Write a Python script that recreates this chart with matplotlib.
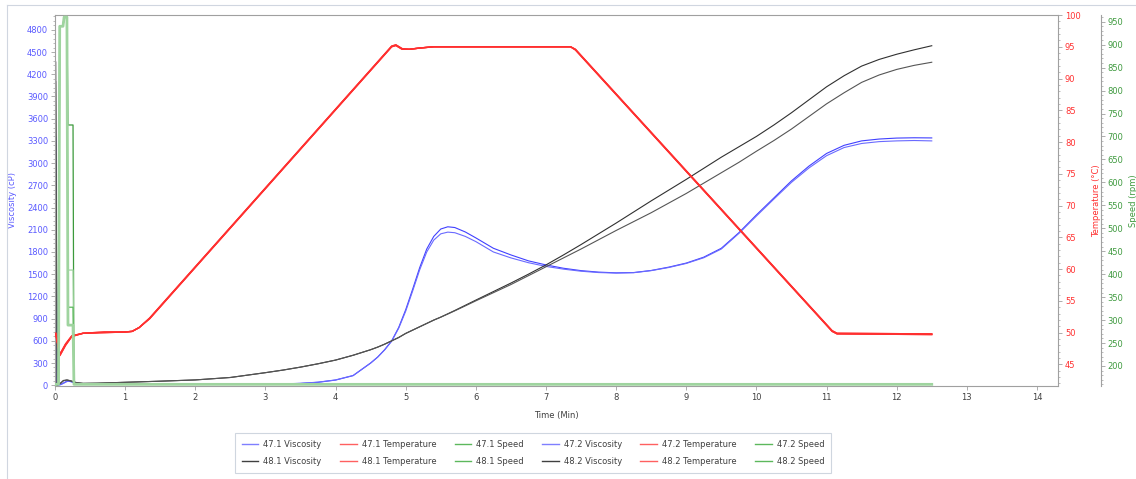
import matplotlib
matplotlib.use("Agg")
import matplotlib.pyplot as plt
from matplotlib.ticker import AutoMinorLocator
from matplotlib.lines import Line2D

# time grid for the viscosity traces (min)
visc_t = [0.01, 0.03, 0.08, 0.12, 0.17, 0.22, 0.3, 0.4, 0.6, 1.0, 1.5, 2.0, 2.5, 3.0,
          3.25, 3.5, 3.75, 4.0, 4.25, 4.5, 4.6, 4.7, 4.8, 4.9, 5.0, 5.1, 5.2, 5.3,
          5.4, 5.5, 5.6, 5.7, 5.85, 6.0, 6.25, 6.5, 6.75, 7.0, 7.25, 7.5, 7.75, 8.0,
          8.25, 8.5, 8.75, 9.0, 9.25, 9.5, 9.75, 10.0, 10.25, 10.5, 10.75, 11.0,
          11.25, 11.5, 11.75, 12.0, 12.25, 12.5]

visc_471 = [3350, 0, 10, 30, 55, 50, 25, 15, 12, 12, 12, 12, 12, 14,
            18, 25, 40, 70, 130, 300, 380, 480, 600, 780, 1020, 1300, 1590, 1840,
            2010, 2110, 2140, 2130, 2070, 1990, 1850, 1760, 1680, 1625, 1580, 1548, 1528, 1518,
            1522, 1550, 1595, 1650, 1730, 1850, 2060, 2300, 2530, 2760, 2960, 3130,
            3240, 3300, 3325, 3338, 3342, 3340]
visc_472 = [3000, 0, 8, 25, 50, 55, 30, 18, 14, 13, 13, 13, 13, 15,
            19, 26, 42, 72, 132, 300, 380, 478, 595, 770, 1000, 1275, 1560, 1800,
            1960, 2045, 2068, 2060, 2010, 1940, 1800, 1720, 1655, 1605, 1568, 1540, 1522, 1515,
            1520, 1548, 1590, 1645, 1722, 1840, 2050, 2285, 2515, 2740, 2935, 3100,
            3210, 3265, 3290, 3300, 3305, 3300]
visc_481 = [4365, 0, 30, 65, 70, 60, 35, 25, 28, 40, 55, 72, 105, 170,
            205, 245, 290, 340, 405, 480, 515, 555, 600, 645, 700, 745, 790, 835,
            880, 920, 965, 1010, 1080, 1150, 1265, 1380, 1500, 1625, 1760, 1900, 2045, 2190,
            2340, 2490, 2635, 2780, 2930, 3080, 3220, 3360, 3515, 3680, 3855, 4030,
            4180, 4310, 4400, 4470, 4530, 4585]
visc_482 = [4100, 0, 25, 60, 72, 62, 38, 26, 28, 40, 55, 72, 105, 170,
            205, 245, 290, 340, 405, 480, 515, 555, 600, 645, 700, 745, 790, 835,
            880, 920, 962, 1005, 1072, 1140, 1250, 1360, 1480, 1600, 1720, 1840, 1965, 2090,
            2210, 2330, 2460, 2590, 2730, 2870, 3010, 3160, 3305, 3460, 3630, 3800,
            3950, 4090, 4190, 4265, 4320, 4362]

temp_t = [0.01, 0.07, 0.15, 0.24, 0.4, 0.7, 1.0, 1.1, 1.2, 1.35, 4.8, 4.86, 4.95,
          5.05, 5.2, 5.4, 7.35, 7.42, 11.08, 11.15, 12.5]
temp_47 = [49.9, 46.6, 48.2, 49.5, 49.9, 50.1, 50.1, 50.2, 50.8, 52.3, 95.1, 95.3, 94.7,
           94.6, 94.8, 95.0, 95.0, 94.6, 50.3, 49.9, 49.8]
temp_48 = [49.8, 46.4, 48.0, 49.4, 49.9, 50.0, 50.1, 50.2, 50.8, 52.2, 95.0, 95.2, 94.6,
           94.6, 94.8, 95.0, 95.0, 94.5, 50.2, 49.8, 49.7]

speed_t = [0.01, 0.05, 0.067, 0.114, 0.13, 0.17, 0.185, 0.257, 0.27, 12.5]
speed_471 = [160, 160, 940, 940, 960, 960, 725, 725, 160, 160]
speed_472 = [160, 160, 940, 940, 960, 960, 409, 409, 160, 160]
speed_481 = [160, 160, 940, 940, 960, 960, 328, 328, 160, 160]
speed_482 = [160, 160, 940, 940, 960, 960, 289, 289, 160, 160]

visc_ticks = list(range(0, 4801, 300))
temp_ticks = list(range(45, 101, 5))
speed_ticks = list(range(200, 951, 50))
time_ticks = list(range(0, 15))

BLUE = "#4040ff"
BLUE2 = "#6a6aff"
BLACK = "#303030"
BLACK2 = "#555555"
RED = "#ff3030"
GREEN = "#3c9a3c"
GREEN_L = "#9fd49f"
GRAY = "#a0a0a0"

plt.rcParams["font.family"] = ["DejaVu Sans"]
plt.rcParams["font.size"] = 6

fig = plt.figure(figsize=(11.36, 4.79), dpi=100)
ax = fig.add_axes([55 / 1136, 1 - 386 / 479, 1003 / 1136, 371 / 479])
ax_t = ax.twinx()
ax_s = ax.twinx()
ax_s.spines["right"].set_position(("outward", 31))

h = {}
h["47.1 Viscosity"], = ax.plot(visc_t, visc_471, color=BLUE, lw=0.8)
h["47.2 Viscosity"], = ax.plot(visc_t, visc_472, color=BLUE2, lw=0.8)
h["48.1 Viscosity"], = ax.plot(visc_t, visc_481, color=BLACK, lw=0.8)
h["48.2 Viscosity"], = ax.plot(visc_t, visc_482, color=BLACK2, lw=0.8)

h["47.1 Temperature"], = ax_t.plot(temp_t, temp_47, color=RED, lw=1.0)
h["47.2 Temperature"], = ax_t.plot(temp_t, temp_47, color=RED, lw=1.0)
h["48.1 Temperature"], = ax_t.plot(temp_t, temp_48, color=RED, lw=1.0)
h["48.2 Temperature"], = ax_t.plot(temp_t, temp_48, color=RED, lw=1.0)

h["47.1 Speed"], = ax_s.plot(speed_t, speed_471, color=GREEN, lw=0.9)
h["47.2 Speed"], = ax_s.plot(speed_t, speed_472, color=GREEN_L, lw=0.9)
h["48.1 Speed"], = ax_s.plot(speed_t, speed_481, color="#5cb85c", lw=0.9)
h["48.2 Speed"], = ax_s.plot(speed_t, speed_482, color=GREEN_L, lw=2.0)

ax.set_xlim(0, 14.3)
ax.set_ylim(-10, 5000)
ax_t.set_ylim(41.6, 100)
ax_s.set_ylim(156.4, 964.6)

ax.set_xticks(time_ticks)
ax.set_yticks(visc_ticks)
ax_t.set_yticks(temp_ticks)
ax_s.set_yticks(speed_ticks)
for a in (ax, ax_t, ax_s):
    a.yaxis.set_minor_locator(AutoMinorLocator(5))
    a.tick_params(which="major", length=3, width=0.6, color=GRAY, pad=2, labelsize=6)
    a.tick_params(which="minor", length=1.5, width=0.5, color=GRAY)
    for s in a.spines.values():
        s.set_color(GRAY)
        s.set_linewidth(0.8)

ax.tick_params(axis="y", labelcolor="#5a5aff")
ax.tick_params(axis="x", labelcolor="#404040")
ax_t.tick_params(axis="y", labelcolor=RED)
ax_s.tick_params(axis="y", labelcolor="#3f9a3f", pad=1.5)
for a in (ax_t, ax_s):
    a.spines["left"].set_visible(False)
    a.spines["top"].set_visible(False)
    a.spines["bottom"].set_visible(False)
ax_t.spines["right"].set_visible(False)

ax.set_xlabel("Time (Min)", color="#404040", fontsize=6)
ax.xaxis.set_label_coords(0.5, -0.068)
ax.set_ylabel("Viscosity (cP)", color="#5a5aff", fontsize=6)
ax.yaxis.set_label_coords(-0.038, 0.5)
ax_t.set_ylabel("Temperature (°C)", color=RED, fontsize=6)
ax_t.yaxis.set_label_coords(1.034, 0.5)
ax_s.set_ylabel("Speed (rpm)", color="#3f9a3f", fontsize=6)
ax_s.yaxis.set_label_coords(1.0705, 0.5)

order = ["47.1 Viscosity", "48.1 Viscosity", "47.1 Temperature", "48.1 Temperature",
         "47.1 Speed", "48.1 Speed", "47.2 Viscosity", "48.2 Viscosity",
         "47.2 Temperature", "48.2 Temperature", "47.2 Speed", "48.2 Speed"]
leg_colors = {"Temperature": "#ff6060", "Speed": "#5cb85c"}
handles = []
for name in order:
    kind = name.split()[1]
    if kind == "Viscosity":
        c = "#7f7fff" if name.startswith("47") else "#404040"
    else:
        c = leg_colors[kind]
    handles.append(Line2D([], [], color=c, lw=1.0))
leg = fig.legend(handles, order, ncol=6, loc="center",
                 bbox_to_anchor=(533 / 1136, 1 - 453 / 479), fontsize=6,
                 frameon=True, fancybox=False, handlelength=2.0, handletextpad=0.6,
                 columnspacing=2.2, labelspacing=1.0, borderpad=0.8)
leg.get_frame().set_edgecolor("#c4ccd8")
leg.get_frame().set_linewidth(0.8)
for t in leg.get_texts():
    t.set_color("#404040")

# outer panel border
fig.add_artist(Line2D([7 / 1136, 1], [1 - 5 / 479, 1 - 5 / 479], color="#d0d6e0", lw=0.8))
fig.add_artist(Line2D([7 / 1136, 7 / 1136], [1 - 5 / 479, 0], color="#d0d6e0", lw=0.8))

fig.savefig("out.png", dpi=100)
